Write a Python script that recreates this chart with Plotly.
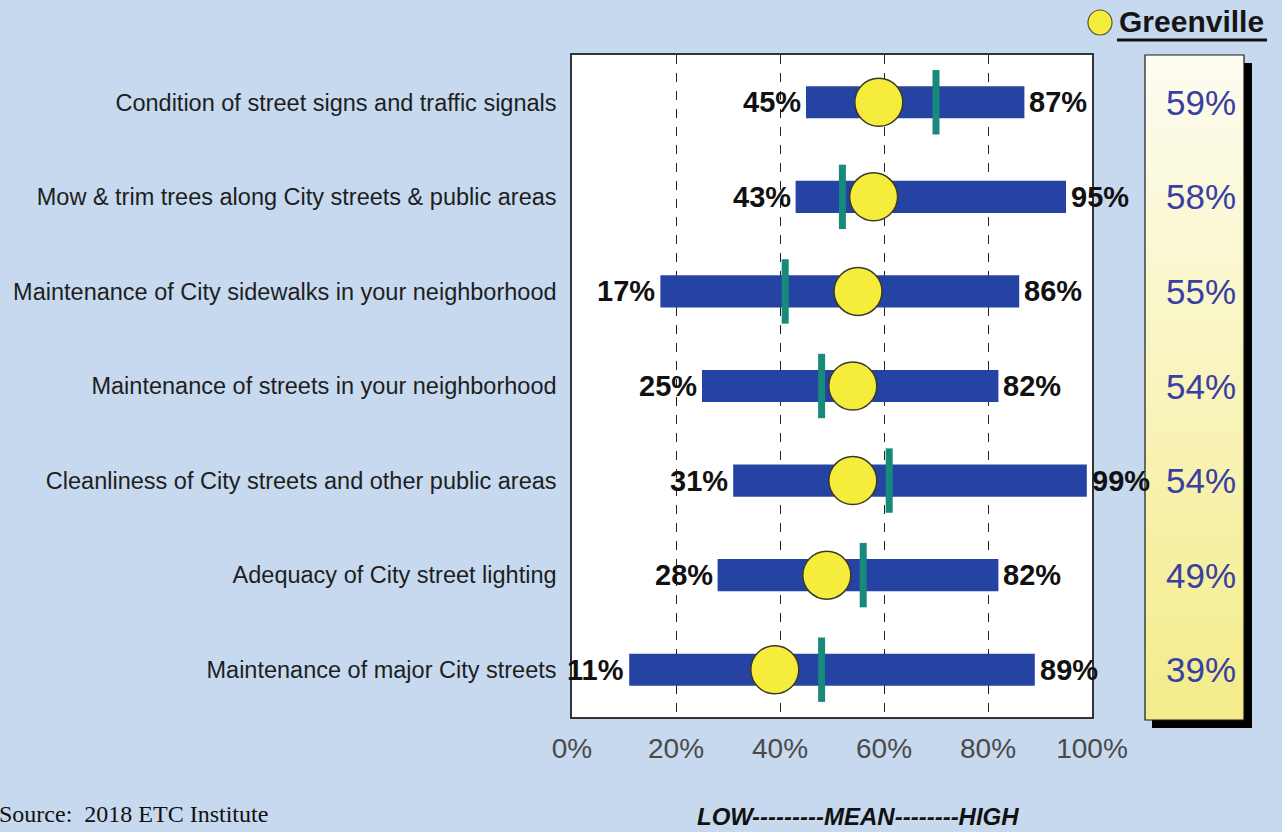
import plotly.graph_objects as go

categories = [
    "Condition of street signs and traffic signals",
    "Mow & trim trees along City streets & public areas",
    "Maintenance of City sidewalks in your neighborhood",
    "Maintenance of streets in your neighborhood",
    "Cleanliness of City streets and other public areas",
    "Adequacy of City street lighting",
    "Maintenance of major City streets",
]
low = [45, 43, 17, 25, 31, 28, 11]
high = [87, 95, 86, 82, 99, 82, 89]
mean = [70, 52, 41, 48, 61, 56, 48]
greenville = [59, 58, 55, 54, 54, 49, 39]
tick_vals = [0, 20, 40, 60, 80, 100]
tick_text = ["0%", "20%", "40%", "60%", "80%", "100%"]

W, H = 1282, 832
L, R, T, B = 572, 1092, 55, 717


def px(p):
    return (p - L) / (R - L)


def py(p):
    return (B - p) / (B - T)


SANS = "Liberation Sans, Arial, sans-serif"
BG = "#C6D9EF"

fig = go.Figure()

fig.add_trace(go.Bar(
    y=categories, x=[h - l for l, h in zip(low, high)], base=low,
    orientation="h", width=0.34,
    marker=dict(color="#2443A2", line=dict(width=0)),
    hoverinfo="skip", showlegend=False,
))

fig.add_trace(go.Scatter(
    y=categories, x=mean, mode="markers",
    marker=dict(symbol="line-ns", size=46,
                line=dict(width=7, color="#178A7C")),
    showlegend=False, hoverinfo="skip",
))

fig.add_trace(go.Scatter(
    y=categories, x=greenville, mode="markers",
    marker=dict(symbol="circle", size=48, color="#F6EC3C",
                line=dict(width=1.5, color="#3A3A2A")),
    showlegend=False, hoverinfo="skip",
))

shapes = []
# Greenville panel shadow
shapes.append(dict(type="rect", xref="paper", yref="paper",
                   x0=px(1152), x1=px(1252), y0=py(728), y1=py(63),
                   fillcolor="#000000", line=dict(width=0), layer="below"))
# gradient panel (stacked stripes, each reaching the bottom -> no seams)
n = 60
top_c = (253, 252, 240)
bot_c = (244, 236, 138)
y_top, y_bot = 55, 720
for i in range(n):
    t = i / (n - 1)
    c = tuple(int(round(top_c[k] + (bot_c[k] - top_c[k]) * t)) for k in range(3))
    ya = y_top + (y_bot - y_top) * i / n
    shapes.append(dict(type="rect", xref="paper", yref="paper",
                       x0=px(1145), x1=px(1244), y0=py(y_bot), y1=py(ya),
                       fillcolor="rgb(%d,%d,%d)" % c, line=dict(width=0),
                       layer="below"))
shapes.append(dict(type="rect", xref="paper", yref="paper",
                   x0=px(1145), x1=px(1244), y0=py(y_bot), y1=py(y_top),
                   line=dict(width=1.2, color="#1A1A1A"), layer="below"))
# legend symbol
shapes.append(dict(type="circle", xref="paper", yref="paper",
                   x0=px(1088), x1=px(1112), y0=py(35), y1=py(10),
                   fillcolor="#F6EC3C", line=dict(width=1.2, color="#55553A")))
shapes.append(dict(type="line", xref="paper", yref="paper",
                   x0=px(1117), x1=px(1267), y0=py(40), y1=py(40),
                   line=dict(width=3, color="#111111")))

annotations = []
for c, lo, hi in zip(categories, low, high):
    annotations.append(dict(
        x=lo, y=c, xref="x", yref="y", text=f"<b>{lo}%</b>",
        showarrow=False, xanchor="right", yanchor="middle", xshift=-3,
        font=dict(family=SANS, size=29, color="#111111")))
    annotations.append(dict(
        x=hi, y=c, xref="x", yref="y", text=f"<b>{hi}%</b>",
        showarrow=False, xanchor="left", yanchor="middle", xshift=3,
        font=dict(family=SANS, size=29, color="#111111")))
for c, g in zip(categories, greenville):
    annotations.append(dict(
        x=px(1201), y=c, xref="paper", yref="y", text=f"{g}%",
        showarrow=False, xanchor="center", yanchor="middle",
        font=dict(family=SANS, size=35, color="#3940A2")))
annotations.append(dict(
    x=px(1117), y=py(21), xref="paper", yref="paper",
    text="<b>Greenville</b>", showarrow=False, xanchor="left", yanchor="middle",
    font=dict(family=SANS, size=30, color="#151515")))
annotations.append(dict(
    x=px(858), y=py(816), xref="paper", yref="paper",
    text="<b><i>LOW---------MEAN--------HIGH</i></b>", showarrow=False,
    xanchor="center", yanchor="middle",
    font=dict(family=SANS, size=24, color="#111111")))
annotations.append(dict(
    x=px(-3), y=py(829), xref="paper", yref="paper",
    text="Source:  2018 ETC Institute", showarrow=False,
    xanchor="left", yanchor="bottom",
    font=dict(family="Liberation Serif, Times New Roman, serif", size=24, color="#111111")))

fig.update_layout(
    width=W, height=H,
    margin=dict(l=L, r=W - R, t=T, b=H - B, pad=0),
    paper_bgcolor=BG, plot_bgcolor="#FFFFFF",
    barmode="overlay", showlegend=False,
    shapes=shapes, annotations=annotations,
    xaxis=dict(range=[0, 100], tickvals=tick_vals, ticktext=tick_text,
               showgrid=True, gridcolor="#222222", griddash="dash", gridwidth=1,
               showline=True, linecolor="#333333", linewidth=1.5, mirror=True,
               ticks="", ticklabelstandoff=6, zeroline=False,
               tickfont=dict(family=SANS, size=28, color="#4A4A4A"),
               fixedrange=True),
    yaxis=dict(categoryorder="array", categoryarray=categories,
               range=[6.5, -0.5], showgrid=False,
               showline=True, linecolor="#333333", linewidth=1.5, mirror=True,
               ticks="", ticklabelstandoff=9,
               tickfont=dict(family=SANS, size=23.5, color="#1E1E1E"),
               fixedrange=True),
)

fig.write_html("out.html", config={"displayModeBar": False},
               post_script="document.body.style.margin='0';document.body.style.overflow='hidden';")
